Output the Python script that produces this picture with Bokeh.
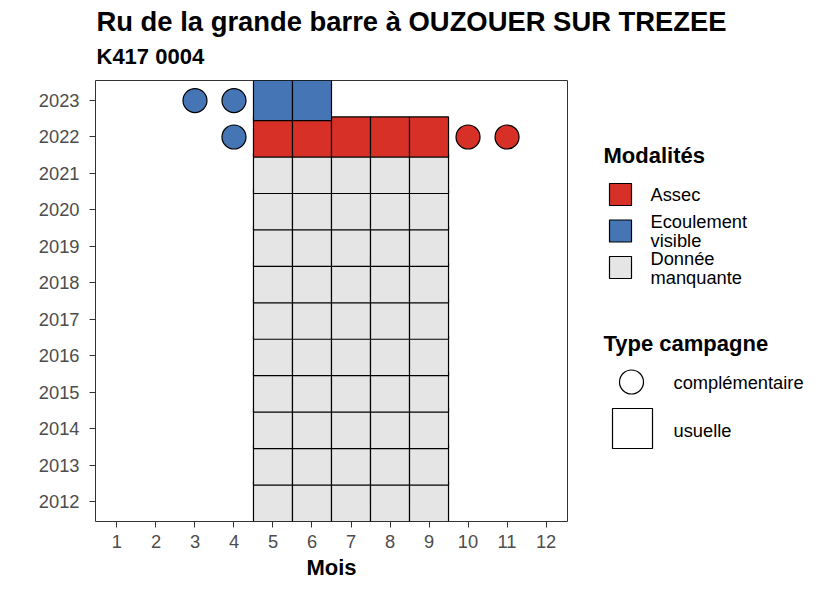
from bokeh.plotting import figure
from bokeh.layouts import column, row
from bokeh.models import Range1d, FixedTicker, ColumnDataSource
from bokeh.core.properties import value
from bokeh.embed import file_html
from bokeh.resources import INLINE

# ---------------- data ----------------
TITLE = "Ru de la grande barre à OUZOUER SUR TREZEE"
SUBTITLE = "K417 0004"
X_LABEL = "Mois"
MONTH_TICKS = [1, 2, 3, 4, 5, 6, 7, 8, 9, 10, 11, 12]
YEAR_TICKS = [2012, 2013, 2014, 2015, 2016, 2017, 2018, 2019, 2020, 2021, 2022, 2023]

MODALITES = ["Assec", "Ecoulement visible", "Donnée manquante"]
MODALITE_LINES = [["Assec"], ["Ecoulement", "visible"], ["Donnée", "manquante"]]
COULEURS = {"Assec": "#D73027", "Ecoulement visible": "#4575B4", "Donnée manquante": "#E5E5E5"}
TYPES = ["complémentaire", "usuelle"]

# campagnes usuelles (tuiles), par année
usuelle_annees = [2012, 2013, 2014, 2015, 2016, 2017, 2018, 2019, 2020, 2021, 2022, 2023]
usuelle_mois = [
    [5, 6, 7, 8, 9], [5, 6, 7, 8, 9], [5, 6, 7, 8, 9], [5, 6, 7, 8, 9],
    [5, 6, 7, 8, 9], [5, 6, 7, 8, 9], [5, 6, 7, 8, 9], [5, 6, 7, 8, 9],
    [5, 6, 7, 8, 9], [5, 6, 7, 8, 9], [5, 6, 7, 8, 9], [5, 6],
]
usuelle_modalite = ["Donnée manquante"] * 10 + ["Assec", "Ecoulement visible"]

# campagnes complémentaires (points)
comp_annee = [2023, 2023, 2022, 2022, 2022]
comp_mois = [3, 4, 4, 10, 11]
comp_modalite = ["Ecoulement visible", "Ecoulement visible", "Ecoulement visible", "Assec", "Assec"]

FONT = value("Liberation Sans")

# ---------------- title figure ----------------
tf = figure(width=826, height=78, x_range=Range1d(0, 826), y_range=Range1d(78, 0),
            output_backend="svg", toolbar_location=None, min_border=0)
tf.axis.visible = False
tf.grid.visible = False
tf.outline_line_color = None
tf.text(x=[96], y=[21], text=[TITLE], text_font=FONT, text_font_size="27.4px",
        text_font_style="bold", text_color="black", text_baseline="middle")
tf.text(x=[96], y=[56], text=[SUBTITLE], text_font=FONT, text_font_size="22px",
        text_font_style="bold", text_color="black", text_baseline="middle")

# ---------------- main figure ----------------
tx, ty, tc = [], [], []
for yr, ms, mod in zip(usuelle_annees, usuelle_mois, usuelle_modalite):
    for m in ms:
        tx.append(m)
        ty.append(yr)
        tc.append(COULEURS[mod])
tiles = ColumnDataSource(dict(x=tx, y=ty, c=tc))
pts = ColumnDataSource(dict(x=comp_mois, y=comp_annee, c=[COULEURS[m] for m in comp_modalite]))

p = figure(width=580, height=504,
           x_range=Range1d(MONTH_TICKS[0] - 0.55, MONTH_TICKS[-1] + 0.55),
           y_range=Range1d(YEAR_TICKS[0] - 0.55, YEAR_TICKS[-1] + 0.55),
           output_backend="svg", toolbar_location=None,
           min_border_left=95, min_border_right=13, min_border_top=2, min_border_bottom=61)
p.grid.visible = False
p.outline_line_color = "#333333"
p.outline_line_width = 1
p.background_fill_color = "white"

p.rect(x="x", y="y", width=1, height=1.1, source=tiles, fill_color="c",
       line_color="black", line_width=1.2)
p.scatter(x="x", y="y", source=pts, marker="circle", size=24, fill_color="c",
          line_color="black", line_width=1.2)

p.xaxis.ticker = FixedTicker(ticks=MONTH_TICKS)
p.yaxis.ticker = FixedTicker(ticks=YEAR_TICKS)
for ax in (p.xaxis, p.yaxis):
    ax.axis_line_color = None
    ax.major_tick_line_color = "#333333"
    ax.major_tick_out = 6
    ax.major_tick_in = 0
    ax.minor_tick_line_color = None
    ax.major_label_text_font = "Liberation Sans"
    ax.major_label_text_font_size = "18.3px"
    ax.major_label_text_color = "#4D4D4D"
p.xaxis.major_label_standoff = 7
p.yaxis.major_label_standoff = 10
p.xaxis.axis_label = X_LABEL
p.xaxis.axis_label_text_font = "Liberation Sans"
p.xaxis.axis_label_text_font_size = "22px"
p.xaxis.axis_label_text_font_style = "bold"
p.xaxis.axis_label_text_color = "black"
p.xaxis.axis_label_standoff = 4

# ---------------- legend figure ----------------
# frame aligned with main frame: page y 80..521, page x 580..826
lf = figure(width=246, height=504, x_range=Range1d(580, 826), y_range=Range1d(521, 80),
            output_backend="svg", toolbar_location=None,
            min_border_left=0, min_border_right=0, min_border_top=2, min_border_bottom=61)
lf.axis.visible = False
lf.grid.visible = False
lf.outline_line_color = None

lf.text(x=[603, 603], y=[155, 343], text=["Modalités", "Type campagne"], text_font=FONT,
        text_font_size="22px", text_font_style="bold", text_color="black",
        text_baseline="middle")

key_y = [194, 230.5, 267]
lf.rect(x=[620] * 3, y=key_y, width=22, height=22,
        fill_color=[COULEURS[m] for m in MODALITES], line_color="black", line_width=1.2)
lab_x, lab_y, lab_t = [], [], []
for ky, lines in zip(key_y, MODALITE_LINES):
    n = len(lines)
    for i, t in enumerate(lines):
        lab_x.append(650)
        lab_y.append(ky + (i - (n - 1) / 2) * 19)
        lab_t.append(t)
lf.text(x=lab_x, y=lab_y, text=lab_t, text_font=FONT, text_font_size="18.3px",
        text_color="black", text_baseline="middle")

lf.scatter(x=[631], y=[381.5], marker="circle", size=24, fill_color="white",
           line_color="black", line_width=1.2)
lf.rect(x=[632], y=[428], width=40, height=40, fill_color="white",
        line_color="black", line_width=1.2)
lf.text(x=[673, 673], y=[382, 430], text=TYPES, text_font=FONT, text_font_size="18.3px",
        text_color="black", text_baseline="middle")

layout = column(tf, row(p, lf, spacing=0), spacing=0)
open("out.html", "w").write(file_html(layout, INLINE))
